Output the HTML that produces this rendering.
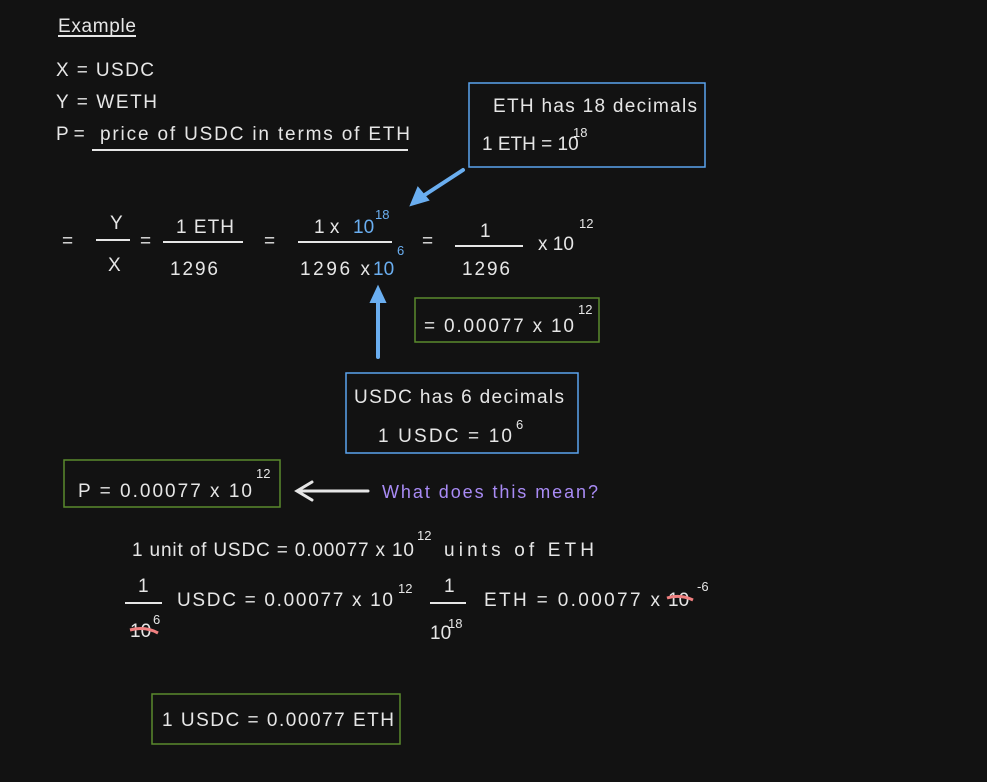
<!DOCTYPE html>
<html><head><meta charset="utf-8"><style>
html,body{margin:0;padding:0;background:#121212;}
svg{display:block;}
text{font-family:"Liberation Sans",sans-serif;font-size:19px;fill:#e6e6e6;}
.s{font-size:13px;}
.b{fill:#6aaef0;}
</style></head><body>
<svg width="987" height="782" viewBox="0 0 987 782" xmlns="http://www.w3.org/2000/svg">
<rect width="987" height="782" fill="#121212"/>
<g stroke="#e6e6e6" stroke-width="2" fill="none">
<line x1="58" y1="36" x2="136" y2="36"/>
<line x1="92" y1="150" x2="408" y2="150"/>
<line x1="96" y1="240" x2="130" y2="240"/>
<line x1="163" y1="242" x2="243" y2="242"/>
<line x1="298" y1="242" x2="392" y2="242"/>
<line x1="455" y1="246" x2="523" y2="246"/>
<line x1="125" y1="603" x2="162" y2="603"/>
<line x1="430" y1="603" x2="466" y2="603"/>
</g>
<text x="58" y="32" textLength="78">Example</text>
<text x="56" y="76" textLength="98">X = USDC</text>
<text x="56" y="108" textLength="101">Y = WETH</text>
<text x="56" y="140">P =</text>
<text x="100" y="140" textLength="310">price of USDC in terms of ETH</text>

<rect x="469" y="83" width="236" height="84" fill="none" stroke="#5ba3ee" stroke-width="1.5"/>
<text x="493" y="112" textLength="204">ETH has 18 decimals</text>
<text x="482" y="150">1 ETH = 10</text>
<text x="573" y="137" class="s">18</text>
<g stroke="#6aaef0" stroke-width="4" fill="#6aaef0" stroke-linecap="round">
<line x1="463" y1="170" x2="420" y2="198"/>
<path d="M411,205 L418,188 L428,200 Z" stroke-width="2"/>
<line x1="378" y1="357" x2="378" y2="298"/>
<path d="M378,287 L371,302 L385,302 Z" stroke-width="2"/>
</g>

<text x="62" y="247">=</text>
<text x="110" y="229">Y</text>
<text x="108" y="271">X</text>
<text x="140" y="247">=</text>
<text x="176" y="233" textLength="58">1 ETH</text>
<text x="170" y="275" textLength="48">1296</text>
<text x="264" y="247">=</text>
<text x="314" y="233">1 x</text>
<text x="353" y="233" class="b">10</text>
<text x="375" y="219" class="s b">18</text>
<text x="300" y="275" textLength="70">1296 x</text>
<text x="373" y="275" class="b">10</text>
<text x="397" y="255" class="s b">6</text>
<text x="422" y="247">=</text>
<text x="480" y="237">1</text>
<text x="462" y="275" textLength="48">1296</text>
<text x="538" y="250">x 10</text>
<text x="579" y="228" class="s">12</text>

<rect x="415" y="298" width="184" height="44" fill="none" stroke="#5b8a2c" stroke-width="1.5"/>
<text x="424" y="332" textLength="150">= 0.00077 x 10</text>
<text x="578" y="314" class="s">12</text>

<rect x="346" y="373" width="232" height="80" fill="none" stroke="#5ba3ee" stroke-width="1.5"/>
<text x="354" y="403" textLength="210">USDC has 6 decimals</text>
<text x="378" y="442" textLength="134">1  USDC = 10</text>
<text x="516" y="429" class="s">6</text>

<rect x="64" y="460" width="216" height="47" fill="none" stroke="#5b8a2c" stroke-width="1.5"/>
<text x="78" y="497" textLength="174">P = 0.00077 x 10</text>
<text x="256" y="478" class="s">12</text>
<g stroke="#e6e6e6" stroke-width="3" fill="none" stroke-linecap="round">
<line x1="368" y1="491" x2="298" y2="491"/>
<path d="M312,482 L297,491 L312,500"/>
</g>
<text x="382" y="498" style="fill:#a98bf5;font-size:18px" textLength="216">What does this mean?</text>

<text x="132" y="556" textLength="282">1 unit of USDC = 0.00077 x 10</text>
<text x="417" y="540" class="s">12</text>
<text x="444" y="556" textLength="150">uints of ETH</text>

<text x="138" y="592">1</text>
<text x="130" y="637">10</text>
<text x="153" y="624" class="s">6</text>
<path d="M130,630 Q145,626 158,633" stroke="#f08080" stroke-width="3" fill="none"/>
<text x="177" y="606" textLength="216">USDC = 0.00077 x 10</text>
<text x="398" y="593" class="s">12</text>
<text x="444" y="592">1</text>
<text x="430" y="639">10</text>
<text x="448" y="628" class="s">18</text>
<text x="484" y="606" textLength="176">ETH = 0.00077 x</text>
<text x="668" y="606">10</text>
<path d="M667,598 Q680,594 693,600" stroke="#f08080" stroke-width="3" fill="none"/>
<text x="697" y="591" class="s">-6</text>

<rect x="152" y="694" width="248" height="50" fill="none" stroke="#5b8a2c" stroke-width="1.5"/>
<text x="162" y="726" textLength="232">1 USDC = 0.00077 ETH</text>
</svg>
</body></html>
